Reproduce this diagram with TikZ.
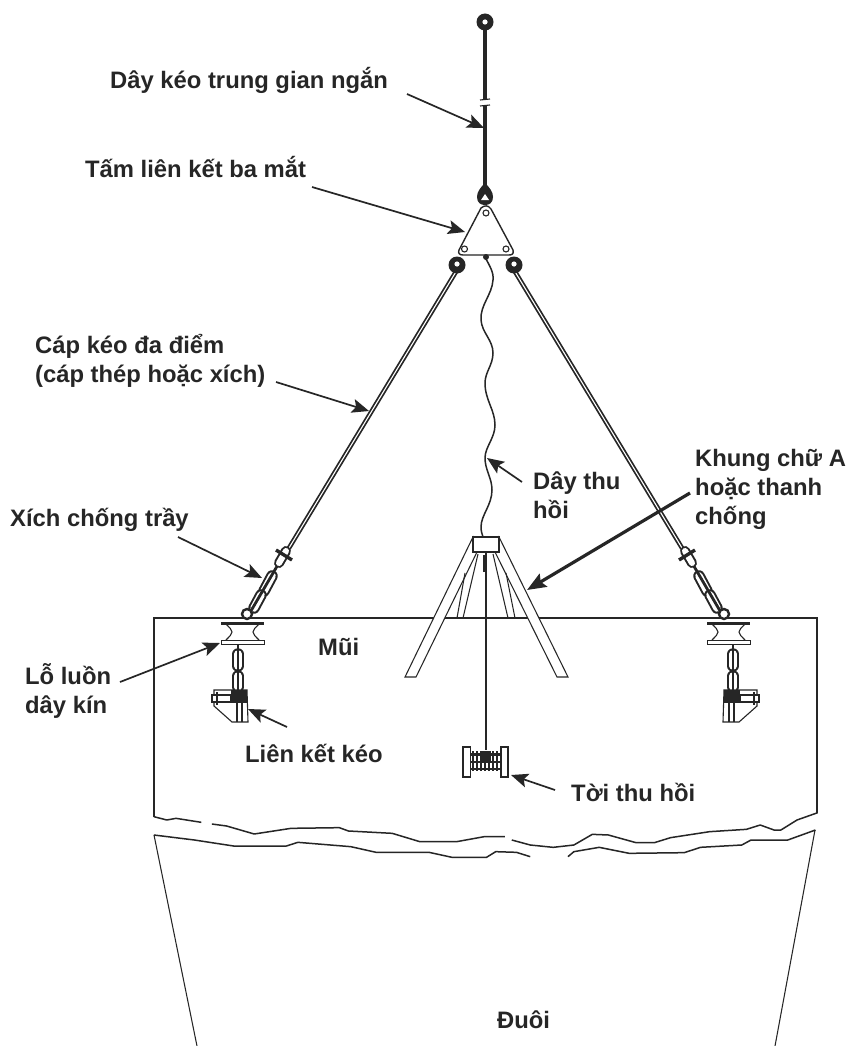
\documentclass[tikz,border=0pt]{standalone}
\usepackage{fontspec}
\setmainfont{Liberation Sans}
\usetikzlibrary{arrows.meta}
\definecolor{ink}{HTML}{262626}
\tikzset{
  x=1pt,y=-1pt,
  lbl/.style={anchor=west,inner sep=0pt,align=left,text=ink,font=\fontsize{23.8}{29}\selectfont\bfseries},
  leader/.style={draw=ink,line width=1.7pt,-{Stealth[length=17pt,width=14pt,inset=3.5pt]}},
  heavy/.style={draw=ink,line width=3.2pt,-{Stealth[length=19pt,width=15pt,inset=3pt]}},
  thin line/.style={draw=ink,line width=1.05pt},
  wave/.style={draw=ink,line width=1.5pt,line join=round},
}
\newcommand{\stadium}[5]{%
  \draw[ink,line width=#5pt,line cap=round] (#1,#2)--(#3,#4);
  \draw[white,line width=\dimexpr #5pt-4pt\relax,line cap=round] (#1,#2)--(#3,#4);}
\newcommand{\sidegear}{%
  % cable
  \draw[ink,line width=4.6pt] (457,270)--(289,548);
  \draw[white,line width=1.1pt] (457,270)--(289,548);
  % top shackle
  \fill[ink] (457,265) circle (8.5);
  \fill[white] (457,264) circle (2.6);
  % chain
  \stadium{264}{591}{272}{576}{11.5}
  \stadium{254}{608}{261}{595}{11.5}
  \draw[ink,line width=2.8pt] (248,616)--(283,556);
  \stadium{279}{563}{286}{551}{10}
  \draw[ink,line width=3.4pt] (276,550)--(292,560);
  \draw[ink,line width=2.4pt,fill=white] (247,614) circle (5);
  % fairlead
  \draw[ink,line width=1.1pt] (226,624) .. controls (234,632) .. (226,640);
  \draw[ink,line width=1.1pt] (259,624) .. controls (251,632) .. (259,640);
  \fill[ink] (221,621.5) rectangle (264,624.5);
  \draw[ink,line width=1pt,fill=white] (221,640.5) rectangle (264,644);
  % lower chain
  \stadium{238}{654}{238}{666}{11.5}
  \stadium{238}{676}{238}{687}{11.5}
  \draw[ink,line width=2.8pt] (238,644)--(238,690);
  % bracket
  \draw[ink,line width=1.1pt,fill=white] (214,690)--(247,690)--(248,722)--(232,722)--(214,706)--cycle;
  \draw[ink,line width=1.1pt] (237,703)--(237,722) (242,703)--(242,722);
  \fill[ink] (231,690) rectangle (247,703);
  \draw[ink,line width=1.1pt,fill=white] (212,695) rectangle (231,702);
  \draw[ink,line width=1.1pt] (217,692)--(217,705);
}
\begin{document}
\begin{tikzpicture}
\useasboundingbox (0,0) rectangle (850,1046);
\fill[white] (0,0) rectangle (850,1046);
% hull
\draw[thin line] (154,817)--(154,618)--(817,618)--(817,813);
\begin{scope}[shift={(130,790)},x=.46pt,y=-.3333pt]
\draw[wave] (52,80)--(80,90)--(100,85)--(155,97);
\draw[wave] (178,102)--(210,108)--(270,132)--(350,115)--(455,113)--(475,123)--(570,130)--(630,155)--(710,155)--(770,140)--(815,140);
\draw[wave] (830,150)--(870,165)--(920,172)--(965,165)--(1005,133)--(1040,135)--(1100,158)--(1140,158)--(1175,143)--(1260,125)--(1340,118)--(1370,105)--(1400,120)--(1415,120)--(1450,90)--(1495,68);
\draw[wave] (870,200)--(840,187)--(795,185)--(775,202)--(700,202)--(650,187)--(535,187)--(480,170)--(365,157)--(340,168)--(225,168)--(140,150)--(52,135);
\draw[wave] (952,200)--(965,185)--(1020,172)--(1085,190)--(1205,188)--(1240,172)--(1330,165)--(1350,150)--(1430,150)--(1490,120);
\end{scope}
\draw[thin line] (154,835)--(197,1046);
\draw[thin line] (815,830)--(775,1046);
% A-frame
\draw[thin line,fill=white] (473,537)--(405,677)--(416,677)--(477,552)--cycle;
\draw[thin line,fill=white] (499,537)--(568,677)--(557,677)--(495,552)--cycle;
\draw[thin line,fill=white] (473,537) rectangle (499,552);
\draw[thin line] (457,618)--(465,573) (463,618)--(478,554);
\draw[thin line] (515,618)--(506,573) (508,618)--(493,554);
\draw[ink,line width=1.3pt] (486,552)--(486,750);
\draw[ink,line width=2.2pt] (484,555)--(484,572);
% winch
\draw[ink,line width=1.1pt] (463,747) rectangle (470.5,777);
\draw[ink,line width=1.1pt] (501,747) rectangle (508,777);
\foreach \q in {473,477,481,485,489,493,497}{\draw[ink,line width=2.8pt] (\q,751)--(\q,771);}
\draw[ink,line width=3pt] (471,754)--(501,754);
\draw[ink,line width=1.3pt] (471,762)--(501,762) (471,769)--(501,769);
\fill[ink] (481,751) rectangle (491,763);
% retrieval line
\draw[ink,line width=1.5pt] (485,257) .. controls (489,265) and (494,272) .. (493,280)
  .. controls (492,295) and (480,305) .. (481,320)
  .. controls (482,333) and (493,340) .. (493,353)
  .. controls (493,365) and (485,372) .. (485,383)
  .. controls (485,400) and (495,410) .. (495,425)
  .. controls (495,438) and (485,447) .. (485,458)
  .. controls (485,470) and (492,478) .. (492,490)
  .. controls (492,505) and (481,515) .. (481,527)
  .. controls (481,531) and (482,534) .. (483,537);
% pendant
\fill[ink] (485,22) circle (8.5);
\fill[white] (485,22) circle (2.6);
\draw[ink,line width=4pt] (485,30)--(485,100);
\draw[ink,line width=3.6pt] (485,106)--(485,186);
\draw[ink,line width=1.1pt] (480,100)--(490,99) (480,106)--(490,105);
\fill[ink] (485,183) .. controls (480,188) and (477,192) .. (477,197) .. controls (477,203) and (481,205) .. (485,205) .. controls (489,205) and (493,203) .. (493,197) .. controls (493,192) and (490,188) .. (485,183) -- cycle;
\fill[white] (485,194) -- (481,200) -- (489,200) -- cycle;
% triangle plate
\draw[ink,line width=1.4pt,line join=round] (481,208) .. controls (485,205) and (488,205) .. (491,209) -- (513,250) .. controls (514,254) and (512,255) .. (509,255) -- (463,255) .. controls (459,255) and (458,253) .. (459,250) -- cycle;
\draw[ink,line width=1.1pt,fill=white] (486,213) circle (3);
\draw[ink,line width=1.1pt,fill=white] (464.5,249) circle (3);
\draw[ink,line width=1.1pt,fill=white] (506,249) circle (3);
\fill[ink] (486,257) circle (3);
% both side gears
\sidegear
\begin{scope}[shift={(971,0)},xscale=-1]
\sidegear
\end{scope}
% labels
\node[lbl] (a) at (110,80) {Dây kéo trung gian ngắn};
\node[lbl] (b) at (85,167) {Tấm liên kết ba mắt};
\node[lbl] (c) at (35,361) {Cáp kéo đa điểm\\(cáp thép hoặc xích)};
\node[lbl] (d) at (10,520) {Xích chống trầy};
\node[lbl] (e) at (25,691) {Lỗ luồn\\dây kín};
\node[lbl] (f) at (245,753) {Liên kết kéo};
\node[lbl] (g) at (318,647) {Mũi};
\node[lbl] (h) at (533,495) {Dây thu\\hồi};
\node[lbl] (i) at (695,489) {Khung chữ A\\hoặc thanh\\chống};
\node[lbl] (j) at (571,792) {Tời thu hồi};
\node[lbl] (k) at (497,1020) {Đuôi};
% leaders
\coordinate (a1) at (407,94);   \coordinate (a2) at (484,128);
\coordinate (b1) at (312,187);  \coordinate (b2) at (465,232);
\coordinate (c1) at (276,382);  \coordinate (c2) at (369,411);
\coordinate (d1) at (178,537);  \coordinate (d2) at (262,578);
\coordinate (e1) at (120,682);  \coordinate (e2) at (220,643);
\coordinate (f1) at (287,727);  \coordinate (f2) at (248,709);
\coordinate (h1) at (522,482);  \coordinate (h2) at (487,458);
\coordinate (i1) at (690,493);  \coordinate (i2) at (527,590);
\coordinate (j1) at (555,790);  \coordinate (j2) at (511,775);
\draw[leader] (a1)--(a2);
\draw[leader] (b1)--(b2);
\draw[leader] (c1)--(c2);
\draw[leader] (d1)--(d2);
\draw[leader] (e1)--(e2);
\draw[leader] (f1)--(f2);
\draw[leader] (h1)--(h2);
\draw[heavy] (i1)--(i2);
\draw[leader] (j1)--(j2);
\end{tikzpicture}
\end{document}
